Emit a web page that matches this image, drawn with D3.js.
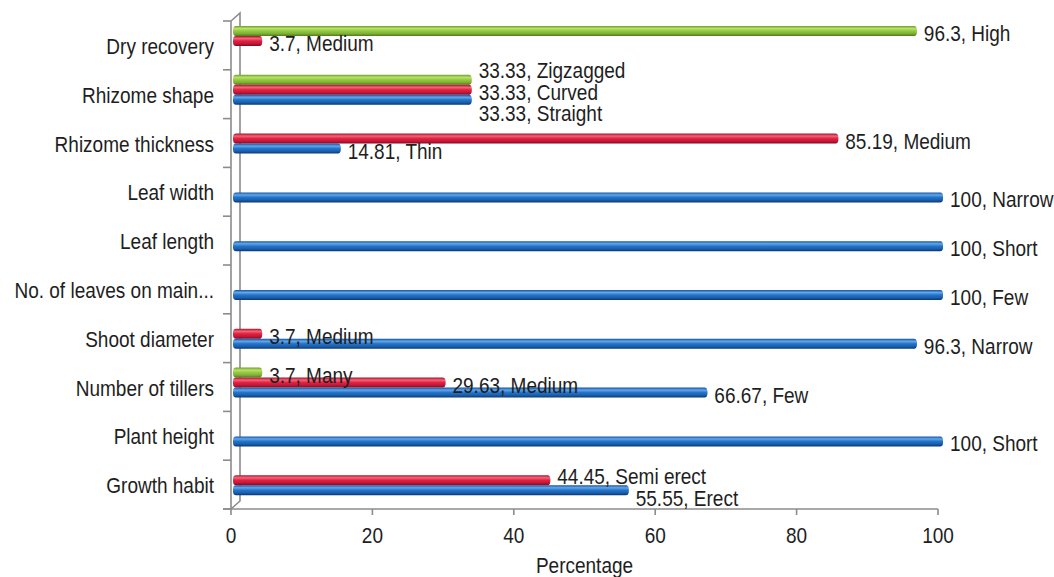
<!DOCTYPE html>
<html>
<head>
<meta charset="utf-8">
<script src="https://cdn.jsdelivr.net/npm/d3@7"></script>
<style>
  html, body { margin: 0; padding: 0; background: #ffffff; }
  svg { display: block; }
  text { font-family: "Liberation Sans", Arial, sans-serif; fill: #1e1e1e; }
</style>
</head>
<body>
<svg id="chart" width="1054" height="577"></svg>
<script>
// Characters, listed top to bottom
const categories = [
  "Dry recovery", "Rhizome shape", "Rhizome thickness", "Leaf width", "Leaf length",
  "No. of leaves on main...", "Shoot diameter", "Number of tillers", "Plant height", "Growth habit"
];

// Percentage of accessions in each class (null = class not present)
const greenValues = [96.3, 33.33, null, null, null, null, null, 3.7, null, null];
const greenClasses = ["High", "Zigzagged", null, null, null, null, null, "Many", null, null];

const redValues = [3.7, 33.33, 85.19, null, null, null, 3.7, 29.63, null, 44.45];
const redClasses = ["Medium", "Curved", "Medium", null, null, null, "Medium", "Medium", null, "Semi erect"];

const blueValues = [null, 33.33, 14.81, 100, 100, 100, 96.3, 66.67, 100, 55.55];
const blueClasses = [null, "Straight", "Thin", "Narrow", "Short", "Few", "Narrow", "Few", "Short", "Erect"];

const xTicks = [0, 20, 40, 60, 80, 100];
const xTitle = "Percentage";

const seriesKeys = ["green", "red", "blue"];
const series = {
  green: { values: greenValues, classes: greenClasses },
  red:   { values: redValues,   classes: redClasses },
  blue:  { values: blueValues,  classes: blueClasses }
};

const svg = d3.select("#chart");
const FONT = 19;
const TEXT_STRETCH = 1.13;   // slightly tall lettering

// places a text at (px, py) on its baseline, stretched vertically
function place(sel, px, py) {
  sel.attr("transform", (d, i) =>
    `translate(${typeof px === "function" ? px(d, i) : px},${typeof py === "function" ? py(d, i) : py}) scale(1,${TEXT_STRETCH})`);
}

const x = d3.scaleLinear().domain([0, 100]).range([231, 938]);
const y = d3.scaleBand().domain(categories).range([21, 509]).padding(0);
const inner = d3.scaleBand().domain(seriesKeys).range([5, 35]).padding(0);

// depth offset of the 3-D back wall
const depth = { dx: 9, dy: -8 };

// cylinder-style vertical gradients
const defs = svg.append("defs");
const gradStops = {
  green: ["#6f9e2a", "#b9e266", "#94c844", "#7fb234", "#4f7a18"],
  red:   ["#a8142a", "#f3657a", "#e02240", "#c8163a", "#7e0c1c"],
  blue:  ["#1552a0", "#63a6ea", "#2274c8", "#1a60b2", "#0b3770"]
};
seriesKeys.forEach(k => {
  const g = defs.append("linearGradient")
    .attr("id", "grad-" + k).attr("x1", 0).attr("y1", 0).attr("x2", 0).attr("y2", 1);
  const offs = [0, 0.25, 0.5, 0.75, 1];
  gradStops[k].forEach((c, i) => g.append("stop").attr("offset", offs[i]).attr("stop-color", c));
});

const axisColor = "#8c8c8c";

// back wall edge and its perspective connectors
const wall = svg.append("g").attr("stroke", axisColor).attr("stroke-width", 1.6).attr("fill", "none");
const top0 = y.range()[0], bot0 = y.range()[1];
wall.append("path").attr("d",
  `M${x(0)},${top0} L${x(0) + depth.dx},${top0 + depth.dy} L${x(0) + depth.dx},${bot0 + depth.dy} L${x(0)},${bot0}`);

// front vertical axis with ticks at category boundaries
const yAxisG = svg.append("g").attr("stroke", axisColor).attr("stroke-width", 1.6);
yAxisG.append("line").attr("x1", x(0)).attr("x2", x(0)).attr("y1", top0).attr("y2", bot0);
const bounds = categories.map(c => y(c)).concat([bot0]);
yAxisG.selectAll("line.tk").data(bounds).join("line").attr("class", "tk")
  .attr("x1", x(0) - 8).attr("x2", x(0)).attr("y1", d => d).attr("y2", d => d);

// horizontal axis
const xAxisG = svg.append("g").attr("stroke", axisColor).attr("stroke-width", 1.6);
xAxisG.append("line").attr("x1", x(0) - 8).attr("x2", x(100)).attr("y1", bot0).attr("y2", bot0);
xAxisG.selectAll("line.tk").data(xTicks).join("line").attr("class", "tk")
  .attr("x1", d => x(d)).attr("x2", d => x(d)).attr("y1", bot0).attr("y2", bot0 + 6);

svg.append("g").selectAll("text").data(xTicks).join("text")
  .attr("text-anchor", "middle").attr("font-size", FONT).text(d => d)
  .call(place, d => x(d), 543);

svg.append("text").datum(xTitle)
  .attr("text-anchor", "middle").attr("font-size", FONT).text(xTitle)
  .call(place, (x(0) + x(100)) / 2, 573);

// category labels
svg.append("g").selectAll("text").data(categories).join("text")
  .attr("text-anchor", "end").attr("font-size", FONT).text(d => d)
  .call(place, 214, d => y(d) + y.bandwidth() / 2 + 8.5);

// bars
const bars = [];
categories.forEach((c, i) => {
  seriesKeys.forEach(k => {
    const v = series[k].values[i];
    if (v == null) return;
    bars.push({ cat: c, idx: i, key: k, value: v, cls: series[k].classes[i] });
  });
});

const barStart = d => x(0) + 2;
const barEnd = d => x(d.value) + 5;
const barTop = d => y(d.cat) + inner(d.key);

const barG = svg.append("g");
barG.selectAll("rect").data(bars).join("rect")
  .attr("x", barStart).attr("y", barTop)
  .attr("width", d => barEnd(d) - barStart(d))
  .attr("height", inner.bandwidth())
  .attr("rx", 3).attr("ry", 4)
  .attr("fill", d => `url(#grad-${d.key})`);

// end caps of the cylinders
barG.selectAll("ellipse").data(bars).join("ellipse")
  .attr("cx", d => barEnd(d) - 2.5).attr("cy", d => barTop(d) + inner.bandwidth() / 2)
  .attr("rx", 2.5).attr("ry", inner.bandwidth() / 2 - 0.3)
  .attr("fill", d => `url(#grad-${d.key})`).attr("opacity", 0.6);

// value labels: sit just below the bar; overlapping ones in a category are spread apart
const labelG = svg.append("g");
const labels = labelG.selectAll("text").data(bars).join("text")
  .attr("font-size", FONT)
  .text(d => `${d.value}, ${d.cls}`);

labels.each(function (d) {
  d.lx0 = barEnd(d) + 7;
  d.lx1 = d.lx0 + this.getComputedTextLength();
  d.ly = barTop(d) + inner.bandwidth() + 5;
});

const spacing = 21.5;
categories.forEach(c => {
  const group = bars.filter(b => b.cat === c);
  // clusters of labels whose horizontal extents overlap
  const clusters = [];
  group.forEach(b => {
    const hit = clusters.find(cl => cl.some(o => o.lx0 < b.lx1 && b.lx0 < o.lx1));
    if (hit) hit.push(b); else clusters.push([b]);
  });
  clusters.forEach(cl => {
    if (cl.length < 2) return;
    cl.sort((a, b) => a.ly - b.ly);
    const mean = d3.mean(cl, b => b.ly);
    cl.forEach((b, j) => { b.ly = mean + (j - (cl.length - 1) / 2) * spacing; });
  });
});

labels.call(place, d => d.lx0, d => d.ly);
</script>
</body>
</html>
